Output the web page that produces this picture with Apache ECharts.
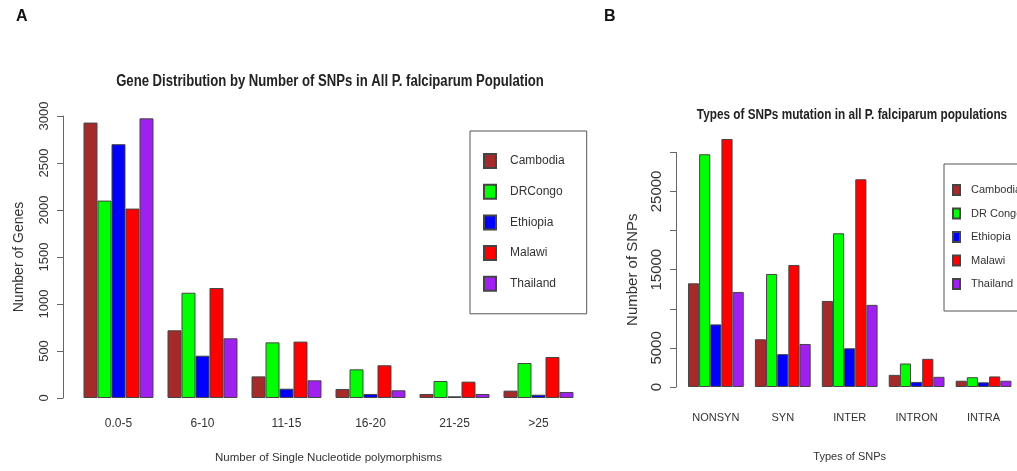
<!DOCTYPE html>
<html>
<head>
<meta charset="utf-8">
<script src="https://cdn.jsdelivr.net/npm/echarts@6/dist/echarts.min.js"></script>
<style>
html,body{margin:0;padding:0;background:#fff;}
#chart{width:1017px;height:471px;}
</style>
</head>
<body>
<div id="chart"></div>
<script>
// ---- Panel A data ----
const catsA = ['0.0-5', '6-10', '11-15', '16-20', '21-25', '>25'];
const seriesNamesA = ['Cambodia', 'DRCongo', 'Ethiopia', 'Malawi', 'Thailand'];
const cambodiaA = [2930, 720, 230, 96, 43, 78];
const drcongoA  = [2100, 1120, 592, 305, 181, 372];
const ethiopiaA = [2700, 450, 99, 43, 18, 35];
const malawiA   = [2015, 1170, 600, 348, 174, 436];
const thailandA = [2975, 635, 188, 82, 43, 64];

// ---- Panel B data ----
const catsB = ['NONSYN', 'SYN', 'INTER', 'INTRON', 'INTRA'];
const seriesNamesB = ['Cambodia', 'DR Congo', 'Ethiopia', 'Malawi', 'Thailand'];
const cambodiaB = [13250, 6100, 11000, 1550, 800];
const drcongoB  = [29750, 14450, 19650, 3000, 1250];
const ethiopiaB = [8000, 4200, 4950, 650, 600];
const malawiB   = [31700, 15600, 26550, 3600, 1350];
const thailandB = [12150, 5500, 10500, 1300, 800];

const colors = ['#A52A2A', '#00FF00', '#0000FF', '#FF0000', '#A020F0'];

const REG = "'Liberation Sans', Arial, sans-serif";

const dataA = [cambodiaA, drcongoA, ethiopiaA, malawiA, thailandA];
const dataB = [cambodiaB, drcongoB, ethiopiaB, malawiB, thailandB];

function makeSeries(names, data, idx) {
  return names.map((n, i) => ({
    name: n,
    type: 'bar',
    xAxisIndex: idx,
    yAxisIndex: idx,
    data: data[i],
    barGap: '0%',
    barCategoryGap: '16.67%',
    clip: false,
    itemStyle: { color: colors[i], borderColor: '#444', borderWidth: 1 },
    emphasis: { disabled: true },
    animation: false
  }));
}

const chart = echarts.init(document.getElementById('chart'), null, { renderer: 'canvas' });

const option = {
  animation: false,
  backgroundColor: '#ffffff',
  color: colors,
  graphic: [
    { type: 'text', x: 16, y: 17, style: { text: 'A', fontFamily: REG, fontWeight: 'bold', fontSize: 16, fill: '#111', textAlign: 'left', textVerticalAlign: 'middle' } },
    { type: 'text', x: 604, y: 17, style: { text: 'B', fontFamily: REG, fontWeight: 'bold', fontSize: 16, fill: '#111', textAlign: 'left', textVerticalAlign: 'middle' } },
    { type: 'text', x: 330, y: 82, scaleX: 0.82, style: { text: 'Gene Distribution by Number of SNPs in All P. falciparum Population', fontFamily: REG, fontWeight: 'bold', fontSize: 16, fill: '#222', textAlign: 'center', textVerticalAlign: 'middle' } },
    { type: 'text', x: 852, y: 115, scaleX: 0.785, style: { text: 'Types of SNPs mutation in all P. falciparum populations', fontFamily: REG, fontWeight: 'bold', fontSize: 15, fill: '#222', textAlign: 'center', textVerticalAlign: 'middle' } }
  ],
  legend: [
    {
      data: seriesNamesA,
      orient: 'vertical',
      left: 470, top: 131,
      padding: [22, 22, 22, 13],
      itemWidth: 12, itemHeight: 14, itemGap: 14.7,
      icon: 'rect',
      borderColor: '#555', borderWidth: 1,
      selectedMode: false,
      textStyle: { fontFamily: REG, fontSize: 12, color: '#333', lineHeight: 14, padding: [0, 0, 0, 9] }
    },
    {
      data: seriesNamesB,
      orient: 'vertical',
      left: 944, top: 164,
      padding: [20, 40, 21, 8],
      itemWidth: 7, itemHeight: 10, itemGap: 11.5,
      icon: 'rect',
      borderColor: '#555', borderWidth: 1,
      selectedMode: false,
      textStyle: { fontFamily: REG, fontSize: 11, color: '#333', lineHeight: 12, padding: [0, 0, 0, 6] }
    }
  ],
  grid: [
    { left: 76.5, top: 116, width: 504, bottom: 73, containLabel: false },
    { left: 682.4, top: 152.3, width: 339, bottom: 84, containLabel: false }
  ],
  xAxis: [
    {
      type: 'category', gridIndex: 0, data: catsA,
      axisLine: { show: false }, axisTick: { show: false },
      axisLabel: { margin: 20, fontFamily: REG, fontSize: 12, color: '#333', interval: 0 },
      name: 'Number of Single Nucleotide polymorphisms', nameLocation: 'middle', nameGap: 54,
      nameTextStyle: { fontFamily: REG, fontSize: 11.5, color: '#333' }
    },
    {
      type: 'category', gridIndex: 1, data: catsB,
      axisLine: { show: false }, axisTick: { show: false },
      axisLabel: { margin: 25, fontFamily: REG, fontSize: 11, color: '#333', interval: 0 },
      name: 'Types of SNPs', nameLocation: 'middle', nameGap: 64,
      nameTextStyle: { fontFamily: REG, fontSize: 11, color: '#333' }
    }
  ],
  yAxis: [
    {
      type: 'value', gridIndex: 0, min: 0, max: 3000, interval: 500, offset: 13.5,
      axisLine: { show: true, lineStyle: { color: '#666', width: 1 } },
      axisTick: { show: true, length: 6, lineStyle: { color: '#666' } },
      splitLine: { show: false },
      axisLabel: { rotate: 90, margin: 12, fontFamily: REG, fontSize: 13, color: '#333',
        formatter: function (v) { return String(v); } },
      name: 'Number of Genes', nameLocation: 'middle', nameGap: 37, nameRotate: 90,
      nameMoveOverlap: false,
      nameTextStyle: { fontFamily: REG, fontSize: 14, color: '#333' }
    },
    {
      type: 'value', gridIndex: 1, min: 0, max: 30000, interval: 5000, offset: 6.4,
      axisLine: { show: true, lineStyle: { color: '#666', width: 1 } },
      axisTick: { show: true, length: 6, lineStyle: { color: '#666' } },
      splitLine: { show: false },
      axisLabel: {
        rotate: 90, margin: 12, fontFamily: REG, fontSize: 15, color: '#333',
        formatter: function (v) { return (v === 0 || (v / 5000) % 2 === 1) ? String(v) : ''; }
      },
      name: 'Number of SNPs', nameLocation: 'middle', nameGap: 36, nameRotate: 90,
      nameMoveOverlap: false,
      nameTextStyle: { fontFamily: REG, fontSize: 15, color: '#333' }
    }
  ],
  series: makeSeries(seriesNamesA, dataA, 0).concat(makeSeries(seriesNamesB, dataB, 1))
};

chart.setOption(option);
</script>
</body>
</html>
